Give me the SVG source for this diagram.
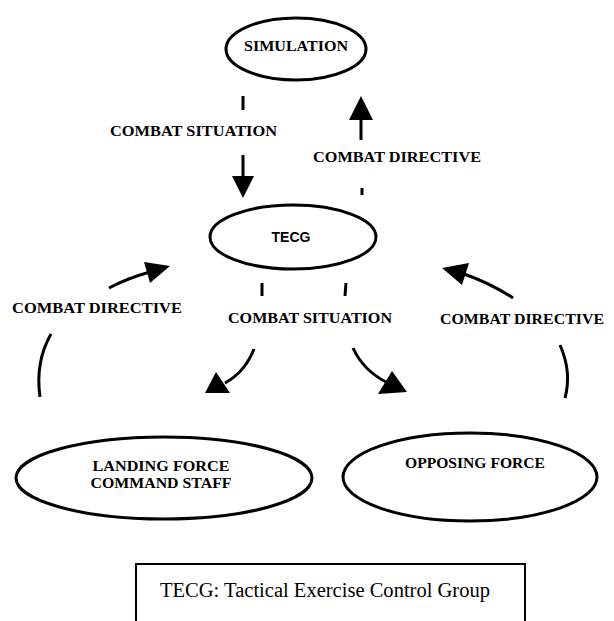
<svg xmlns="http://www.w3.org/2000/svg" width="614" height="621" viewBox="0 0 614 621">
<style>
.node{fill:none;stroke:#000;stroke-width:3}
.lbl{font-family:"Liberation Serif",serif;font-weight:bold;font-size:15.5px;fill:#000}
.tl{font-family:"Liberation Serif",serif;font-weight:bold;font-size:15.5px;fill:#000;text-anchor:middle}
.ln{fill:none;stroke:#000;stroke-width:3}
.head{fill:#000}
</style>
<rect width="614" height="621" fill="#fff"/>
<g id="simulation">
<ellipse class="node" cx="296" cy="49" rx="70" ry="31"/>
<text class="tl" x="296" y="51" textLength="104" lengthAdjust="spacingAndGlyphs">SIMULATION</text>
</g>
<g id="tecg">
<ellipse class="node" cx="293" cy="237" rx="83" ry="32"/>
<text x="291" y="242" text-anchor="middle" style="font-family:'Liberation Sans',sans-serif;font-weight:bold;font-size:14px">TECG</text>
</g>
<g id="landing">
<ellipse class="node" cx="164" cy="478" rx="148" ry="41"/>
<text class="tl" x="161" y="471" textLength="137" lengthAdjust="spacingAndGlyphs">LANDING FORCE</text>
<text class="tl" x="161" y="488" textLength="141" lengthAdjust="spacingAndGlyphs">COMMAND STAFF</text>
</g>
<g id="opposing">
<ellipse class="node" cx="470" cy="477" rx="127" ry="44"/>
<text class="tl" x="475" y="468" textLength="140" lengthAdjust="spacingAndGlyphs">OPPOSING FORCE</text>
</g>
<g id="legend">
<path d="M136 621 V564 H525 V621" fill="none" stroke="#000" stroke-width="2"/>
<text x="160" y="597" textLength="330" lengthAdjust="spacingAndGlyphs" style="font-family:'Liberation Serif',serif;font-size:20px">TECG: Tactical Exercise Control Group</text>
</g>
<g id="connectors">
<line class="ln" x1="243" y1="96" x2="243" y2="110"/>
<line class="ln" x1="243" y1="155" x2="243" y2="178"/>
<polygon class="head" points="232,176 254,176 243,198"/>
<line class="ln" x1="361" y1="118" x2="361" y2="140"/>
<polygon class="head" points="349,120 373,120 361,96"/>
<line class="ln" x1="362" y1="188" x2="362" y2="195"/>
<line class="ln" x1="262" y1="283" x2="262" y2="296"/>
<line class="ln" x1="346" y1="283" x2="345" y2="296"/>
<path class="ln" d="M109 288 Q128 278 150 272"/>
<polygon class="head" points="144,262 170,266 150,283"/>
<path class="ln" d="M513 298 Q490 283 464 274"/>
<polygon class="head" points="469,263 442,268 462,285"/>
<path class="ln" d="M254 349 Q245 372 225 383"/>
<polygon class="head" points="216,372 205,393 230,393"/>
<path class="ln" d="M353 348 Q363 370 386 382"/>
<polygon class="head" points="378,394 407,392 392,371"/>
<path class="ln" d="M51 334 Q35 362 40 397"/>
<path class="ln" d="M560 345 Q572 372 565 398"/>
</g>
<text class="lbl" x="110" y="136" textLength="167" lengthAdjust="spacingAndGlyphs">COMBAT SITUATION</text>
<text class="lbl" x="313" y="162" textLength="168" lengthAdjust="spacingAndGlyphs">COMBAT DIRECTIVE</text>
<text class="lbl" x="12" y="313" textLength="170" lengthAdjust="spacingAndGlyphs">COMBAT DIRECTIVE</text>
<text class="lbl" x="228" y="323" textLength="164" lengthAdjust="spacingAndGlyphs">COMBAT SITUATION</text>
<text class="lbl" x="440" y="324" textLength="164" lengthAdjust="spacingAndGlyphs">COMBAT DIRECTIVE</text>
</svg>
